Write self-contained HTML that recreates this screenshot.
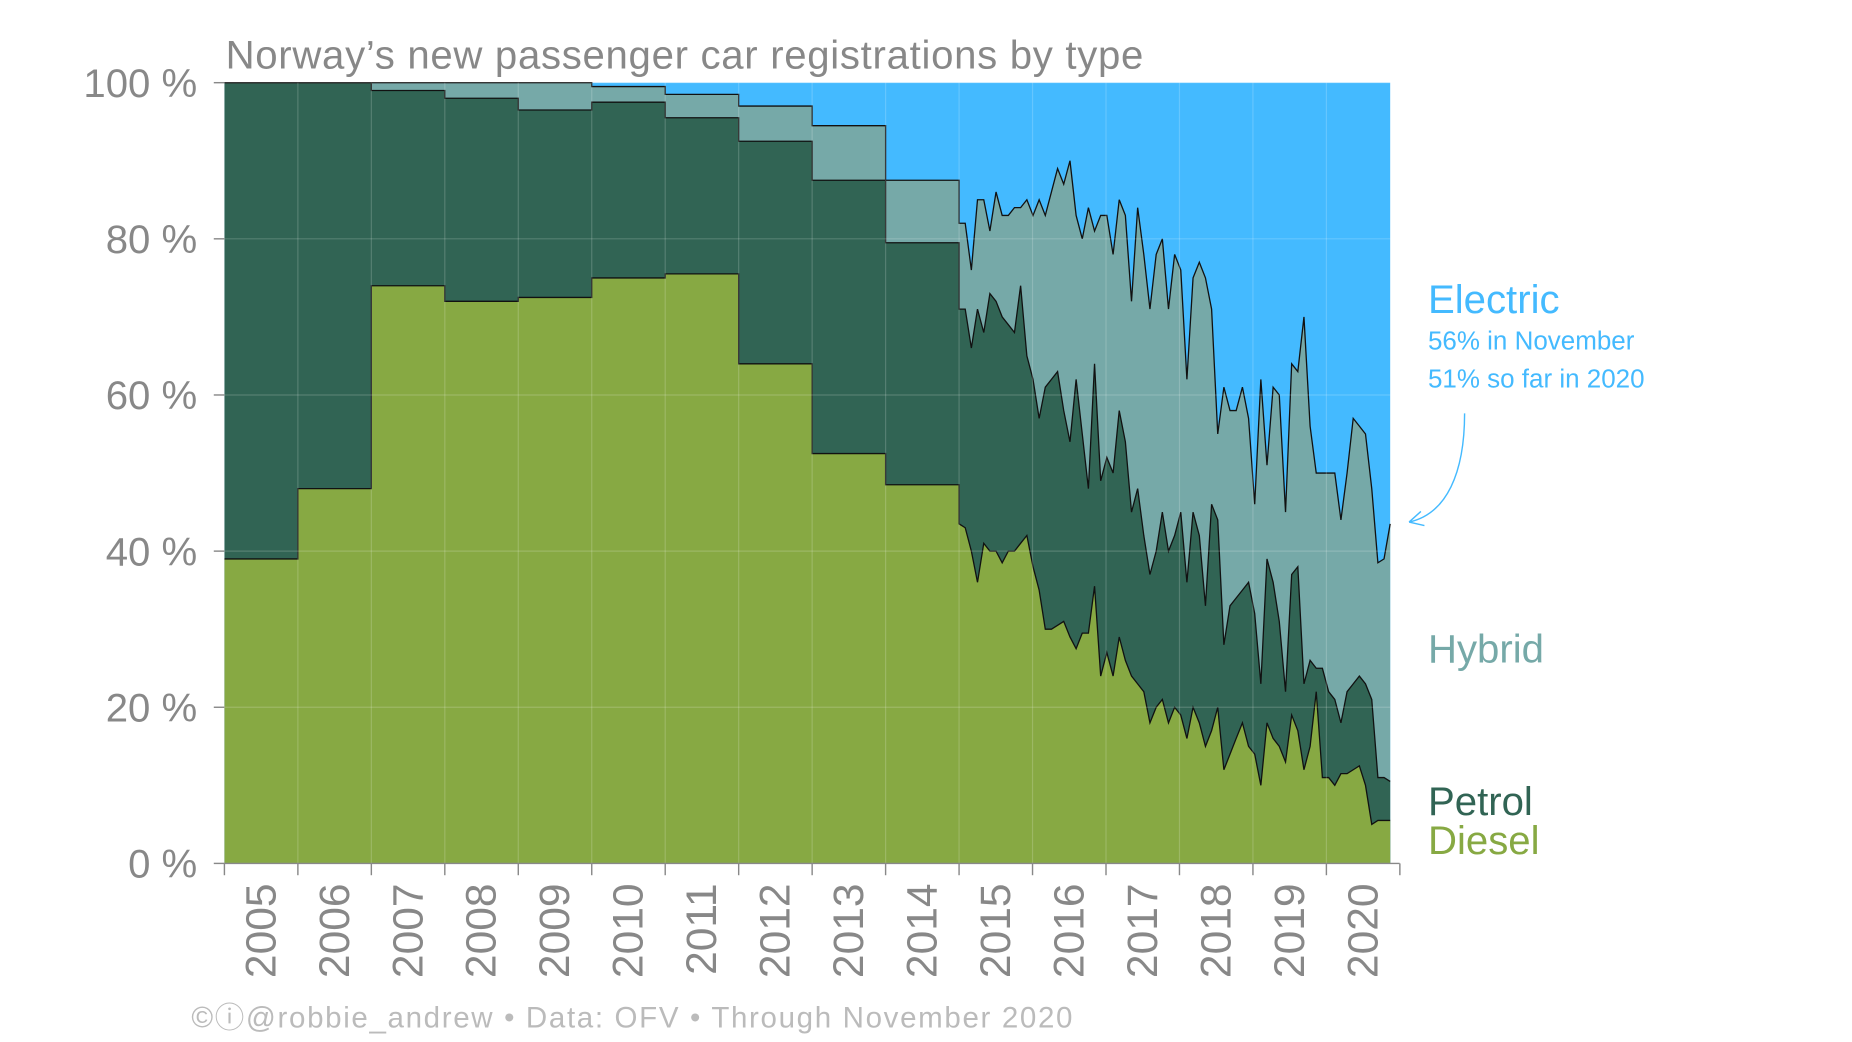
<!DOCTYPE html>
<html><head><meta charset="utf-8"><style>
html,body{margin:0;padding:0;background:#fff;}
svg{display:block;font-family:"Liberation Sans",sans-serif;}
</style></head><body>
<svg id="s" width="1852" height="1042" viewBox="0 0 1568 882.2" xmlns="http://www.w3.org/2000/svg">
<rect x="190" y="70" width="987" height="661" fill="#44baff"/>
<g id="layers"></g>
<g id="grid" stroke="#ffffff" stroke-opacity="0.18" stroke-width="1"></g>
<g id="ax" fill="#888" font-size="34"></g>
<text x="191" y="58" font-size="34" fill="#888" textLength="777">Norway’s new passenger car registrations by type</text>
<text x="1209" y="265" font-size="34" fill="#44baff">Electric</text>
<text x="1209" y="296" font-size="22" fill="#44baff">56% in November</text>
<text x="1209" y="328" font-size="22" fill="#44baff">51% so far in 2020</text>
<path d="M1240,350 C1240,400 1225,435 1193,442 M1193,442 l10,-9 M1193,442 l13,3" stroke="#44baff" stroke-width="1.2" fill="none"/>
<text x="1209" y="561" font-size="34" fill="#76a9a8">Hybrid</text>
<text x="1209" y="690" font-size="34" fill="#316454">Petrol</text>
<text x="1209" y="723" font-size="34" fill="#87a943">Diesel</text>
<text x="162" y="870" font-size="25" fill="#bbb" textLength="746">©ⓘ@robbie_andrew  •  Data: OFV  •  Through November 2020</text>
</svg>
<script>
var NS="http://www.w3.org/2000/svg";
function Y(p){return 731-p*6.61;}
var x0=190,yw=62.2;
var ann=[[39,100,100],[48,100,100],[74,99,100],[72,98,100],[72.5,96.5,100],[75,97.5,99.5],[75.5,95.5,98.5],[64,92.5,97],[52.5,87.5,94.5],[48.5,79.5,87.5]];
var d=[43.5,43,40,36,41,40,40,38.5,40,40,41,42,38,35,30,30,30.5,31,29,27.5,29.5,29.5,35.5,24,27,24,29,26,24,23,22,18,20,21,18,20,19,16,20,18,15,17,20,12,14,16,18,15,14,10,18,16,15,13,19,17,12,15,22,11,11,10,11.5,11.5,12,12.5,10,5,5.5,5.5,5.5];
var p=[71,71,66,71,68,73,72,70,69,68,74,65,62,57,61,62,63,58,54,62,55,48,64,49,52,50,58,54,45,48,42,37,40,45,40,42,45,36,45,42,33,46,44,28,33,34,35,36,32,23,39,36,31,22,37,38,23,26,22,21,18,22,23,24,23,21,11,11,10.5];
while(p.length<71)p.splice(58,0,25);
var h=[82,82,76,85,85,81,86,83,83,84,84,85,83,85,83,86,89,87,90,83,80,84,81,83,83,78,85,83,72,84,78,71,78,80,71,78,76,62,75,77,75,71,55,61,58,58,61,57,46,62,51,61,60,45,64,63,70,56,44,50,57,56,55,48,38.5,39,43.5];
while(h.length<71)h.splice(58,0,50);
var xs=[],L=[[],[],[]];
for(var i=0;i<10;i++){for(var k=0;k<2;k++){xs.push(x0+(i+k)*yw);for(var j=0;j<3;j++)L[j].push(ann[i][j]);}}
var mx0=x0+10*yw,mw=(1177-mx0)/70;
for(var m=0;m<71;m++){xs.push(mx0+m*mw);L[0].push(d[m]);L[1].push(Math.max(p[m],d[m]));L[2].push(Math.max(h[m],p[m]));}
var cols=["#87a943","#316454","#76a9a8"];
var g=document.getElementById("layers");
for(var j=2;j>=0;j--){
 var s="M190,731";for(var i=0;i<xs.length;i++)s+=" L"+xs[i].toFixed(1)+","+Y(L[j][i]).toFixed(1);
 s+=" L1177,731Z";
 var e=document.createElementNS(NS,"path");e.setAttribute("d",s);e.setAttribute("fill",cols[j]);g.appendChild(e);
}
for(var j=0;j<3;j++){
 var s="";for(var i=0;i<xs.length;i++)s+=(i?" L":"M")+xs[i].toFixed(1)+","+Y(L[j][i]).toFixed(1);
 var e=document.createElementNS(NS,"path");e.setAttribute("d",s);e.setAttribute("fill","none");e.setAttribute("stroke","#111");e.setAttribute("stroke-width","1.1");g.appendChild(e);
}
var gr=document.getElementById("grid"),ax=document.getElementById("ax");
function ln(par,x1,y1,x2,y2,c,w){var e=document.createElementNS(NS,"line");e.setAttribute("x1",x1);e.setAttribute("y1",y1);e.setAttribute("x2",x2);e.setAttribute("y2",y2);if(c){e.setAttribute("stroke",c);e.setAttribute("stroke-width",w);}par.appendChild(e);}
for(var v=0;v<=100;v+=20){ln(gr,190,Y(v),1177,Y(v));ln(ax,181,Y(v),190,Y(v),"#888",1.2);
 var t=document.createElementNS(NS,"text");t.setAttribute("x",167);t.setAttribute("y",Y(v)+12);t.setAttribute("text-anchor","end");t.textContent=v+" %";ax.appendChild(t);}
for(var i=0;i<=16;i++){var x=x0+i*yw;if(i<16)ln(gr,x,70,x,731);ln(ax,x,731,x,741,"#888",1.2);
 if(i<16){var t=document.createElementNS(NS,"text");var cx=x+yw/2+12;t.setAttribute("transform","translate("+cx+",748) rotate(-90)");t.setAttribute("text-anchor","end");t.setAttribute("font-size","36");t.textContent=2005+i;ax.appendChild(t);}}
ln(ax,190,731,1185,731,"#888",1.2);
</script>
</body></html>
